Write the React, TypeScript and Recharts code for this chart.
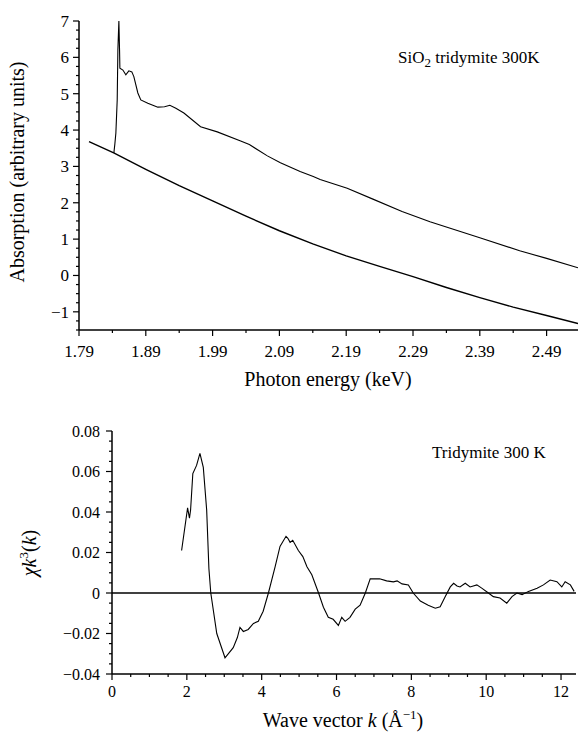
import { LineChart, Line, XAxis, YAxis, ReferenceLine } from 'recharts'

const SERIF = 'Liberation Serif, Times New Roman, Times, serif'

// top panel: absorption edge
const energyMajor = [1.79, 1.89, 1.99, 2.09, 2.19, 2.29, 2.39, 2.49]
const energyMinor = [1.84, 1.94, 2.04, 2.14, 2.24, 2.34, 2.44]
const absMajor = [-1, 0, 1, 2, 3, 4, 5, 6, 7]

const sampleEnergy = [
  1.8422, 1.8437, 1.8452, 1.8472, 1.8482, 1.8497, 1.8507, 1.8512, 1.8557, 1.8601, 1.8646,
  1.8691, 1.8721, 1.8781, 1.8825, 1.893, 1.908, 1.918, 1.926, 1.935, 1.947, 1.972, 1.997,
  2.032, 2.045, 2.072, 2.0915, 2.121, 2.1407, 2.151, 2.1915, 2.23, 2.2736, 2.3154, 2.39,
  2.4497, 2.49, 2.537,
]
const sampleAbs = [
  3.37, 3.62, 3.92, 4.83, 6.2, 7.0, 6.2, 5.7, 5.65, 5.52, 5.63, 5.6, 5.47, 5.02, 4.83, 4.74,
  4.63, 4.64, 4.68, 4.6, 4.47, 4.09, 3.95, 3.7, 3.6, 3.29, 3.1, 2.86, 2.72, 2.64, 2.4, 2.1,
  1.76, 1.48, 1.04, 0.68, 0.47, 0.21,
]

const bgEnergy = [1.805, 1.842, 1.89, 1.94, 1.99, 2.04, 2.09, 2.14, 2.19, 2.24, 2.29, 2.34, 2.39, 2.44, 2.49, 2.537]
const bgAbs = [3.68, 3.37, 2.92, 2.47, 2.05, 1.63, 1.23, 0.87, 0.54, 0.25, -0.03, -0.33, -0.61, -0.87, -1.1, -1.32]

// bottom panel: EXAFS
const kMajor = [0, 2, 4, 6, 8, 10, 12]
const chiMajor = [-0.04, -0.02, 0, 0.02, 0.04, 0.06, 0.08]

const kValues = [
  1.86, 2.02, 2.07, 2.1, 2.16, 2.26, 2.35, 2.44, 2.53, 2.59, 2.64, 2.8, 3.02, 3.24, 3.35, 3.42,
  3.51, 3.64, 3.78, 3.91, 4.04, 4.18, 4.36, 4.49, 4.65, 4.7, 4.76, 4.83, 4.98, 5.1, 5.21, 5.34,
  5.52, 5.65, 5.78, 5.91, 6.05, 6.14, 6.23, 6.36, 6.5, 6.63, 6.77, 6.9, 6.98, 7.15, 7.34, 7.52,
  7.62, 7.75, 7.92, 8.05, 8.24, 8.45, 8.64, 8.77, 8.9, 9.04, 9.13, 9.22, 9.3, 9.44, 9.57, 9.75,
  9.88, 10.06, 10.19, 10.37, 10.55, 10.69, 10.82, 10.96, 11.13, 11.36, 11.53, 11.71, 11.89,
  12.02, 12.11, 12.25, 12.35,
]
const chiValues = [
  0.021, 0.042, 0.037, 0.041, 0.059, 0.063, 0.069, 0.062, 0.041, 0.012, 0.0, -0.02, -0.032,
  -0.027, -0.022, -0.017, -0.019, -0.018, -0.015, -0.014, -0.009, 0.0, 0.013, 0.023, 0.028,
  0.027, 0.025, 0.026, 0.021, 0.018, 0.013, 0.009, 0.0, -0.007, -0.012, -0.013, -0.016,
  -0.012, -0.014, -0.012, -0.008, -0.006, 0.0, 0.007, 0.007, 0.007, 0.006, 0.0055, 0.006,
  0.0045, 0.004, 0.0, -0.004, -0.006, -0.0075, -0.0068, -0.002, 0.003, 0.0048, 0.0035, 0.003,
  0.0048, 0.003, 0.004, 0.0024, 0.0, -0.0018, -0.0025, -0.005, -0.0018, 0.0, -0.0008, 0.0008,
  0.0024, 0.004, 0.0064, 0.0056, 0.003, 0.0056, 0.004, 0.0008,
]

const sampleData = sampleEnergy.map((e, i) => ({ e, a: sampleAbs[i] }))
const bgData = bgEnergy.map((e, i) => ({ e, a: bgAbs[i] }))
const exafsData = kValues.map((k, i) => ({ k, chi: chiValues[i] }))

// minor ticks between majors
const withMinors = (majors: number[], step: number, lo: number, hi: number) => {
  const out: number[] = []
  for (let v = lo; v <= hi + 1e-9; v += step) out.push(Math.round(v * 10000) / 10000)
  return Array.from(new Set([...out, ...majors])).sort((a, b) => a - b)
}

const isMajor = (majors: number[], v: number) => majors.some((m) => Math.abs(m - v) < 1e-6)
const minus = (s: string) => s.replace('-', '\u2212')
const serifStyle = { fontFamily: SERIF }

const makeXTick = (majors: number[], fmt: (v: number) => string, fontSize: number, dy: number) =>
  (props: any) => {
    const { x, y, payload } = props
    const major = isMajor(majors, payload.value)
    return (
      <g>
        <line x1={x} y1={y} x2={x} y2={y + (major ? 6 : 3)} stroke="#000" strokeWidth={1.2} />
        {major && (
          <text x={x} y={y + dy} textAnchor="middle" fontSize={fontSize} style={serifStyle} fill="#000">
            {fmt(payload.value)}
          </text>
        )}
      </g>
    )
  }

const makeYTick = (majors: number[], fmt: (v: number) => string, fontSize: number, gap: number) =>
  (props: any) => {
    const { x, y, payload } = props
    const major = isMajor(majors, payload.value)
    return (
      <g>
        <line x1={x} y1={y} x2={x - (major ? 6 : 3)} y2={y} stroke="#000" strokeWidth={1.2} />
        {major && (
          <text x={x - gap} y={y} dy="0.35em" textAnchor="end" fontSize={fontSize} style={serifStyle} fill="#000">
            {fmt(payload.value)}
          </text>
        )}
      </g>
    )
  }

const axisLine = { stroke: '#000', strokeWidth: 1.5 }

export default function App() {
  return (
    <div style={{ position: 'absolute', left: 0, top: 0, width: 579, height: 732, background: '#fff', fontFamily: SERIF }}>
      <div style={{ position: 'absolute', left: 0, top: 0 }}>
        <LineChart width={579} height={366} margin={{ top: 21, right: 1, left: 0, bottom: 0 }}>
          <XAxis
            type="number"
            dataKey="e"
            domain={[1.79, 2.537]}
            allowDataOverflow
            ticks={[...energyMajor, ...energyMinor].sort((a, b) => a - b)}
            interval={0}
            height={36}
            tickSize={0}
            tickMargin={0}
            tickLine={false}
            axisLine={axisLine}
            tick={makeXTick(energyMajor, (v) => v.toFixed(2), 17, 27)}
          />
          <YAxis
            type="number"
            domain={[-1.5, 7]}
            allowDataOverflow
            ticks={withMinors(absMajor, 0.25, -1.5, 7)}
            interval={0}
            width={79}
            tickSize={0}
            tickMargin={0}
            tickLine={false}
            axisLine={axisLine}
            tick={makeYTick(absMajor, (v) => minus(String(v)), 17, 10)}
          />
          <Line data={bgData} dataKey="a" type="linear" stroke="#000" strokeWidth={1.4} dot={false} isAnimationActive={false} />
          <Line data={sampleData} dataKey="a" type="linear" stroke="#000" strokeWidth={1.1} dot={false} isAnimationActive={false} />
        </LineChart>
      </div>

      <div style={{ position: 'absolute', left: 0, top: 400 }}>
        <LineChart width={579} height={300} data={exafsData} margin={{ top: 31, right: 3, left: 0, bottom: 0 }}>
          <XAxis
            type="number"
            dataKey="k"
            domain={[0, 12.4]}
            allowDataOverflow
            ticks={withMinors(kMajor, 0.5, 0, 12)}
            interval={0}
            height={26}
            tickSize={0}
            tickMargin={0}
            tickLine={false}
            axisLine={axisLine}
            tick={makeXTick(kMajor, (v) => String(v), 16, 23)}
          />
          <YAxis
            type="number"
            domain={[-0.04, 0.08]}
            allowDataOverflow
            ticks={withMinors(chiMajor, 0.005, -0.04, 0.08)}
            interval={0}
            width={112}
            tickSize={0}
            tickMargin={0}
            tickLine={false}
            axisLine={axisLine}
            tick={makeYTick(chiMajor, (v) => (v === 0 ? '0' : minus(v.toFixed(2))), 16, 12)}
          />
          <ReferenceLine y={0} stroke="#000" strokeWidth={1.3} />
          <Line dataKey="chi" type="linear" stroke="#000" strokeWidth={1.1} dot={false} isAnimationActive={false} />
        </LineChart>
      </div>

      <svg
        width={579}
        height={732}
        style={{ position: 'absolute', left: 0, top: 0, pointerEvents: 'none', fontFamily: SERIF }}
        fill="#000"
      >
        <text x={398} y={63} fontSize={17}>
          SiO<tspan fontSize={13} dy={4}>2</tspan>
          <tspan dy={-4}> tridymite 300K</tspan>
        </text>
        <text x={24} y={172} fontSize={20} textAnchor="middle" transform="rotate(-90 24 172)">
          Absorption (arbitrary units)
        </text>
        <text x={328} y={386} fontSize={20} textAnchor="middle">
          Photon energy (keV)
        </text>

        <text x={432} y={458} fontSize={17}>
          Tridymite 300 K
        </text>
        <text x={36} y={553} fontSize={20} textAnchor="middle" transform="rotate(-90 36 553)">
          <tspan fontStyle="italic">χk</tspan>
          <tspan fontSize={13} dy={-8}>3</tspan>
          <tspan dy={8}>(</tspan>
          <tspan fontStyle="italic">k</tspan>
          <tspan>)</tspan>
        </text>
        <text x={343} y={727} fontSize={20} textAnchor="middle">
          Wave vector <tspan fontStyle="italic">k</tspan> (Å
          <tspan fontSize={13} dy={-8}>−1</tspan>
          <tspan dy={8}>)</tspan>
        </text>
      </svg>
    </div>
  )
}
